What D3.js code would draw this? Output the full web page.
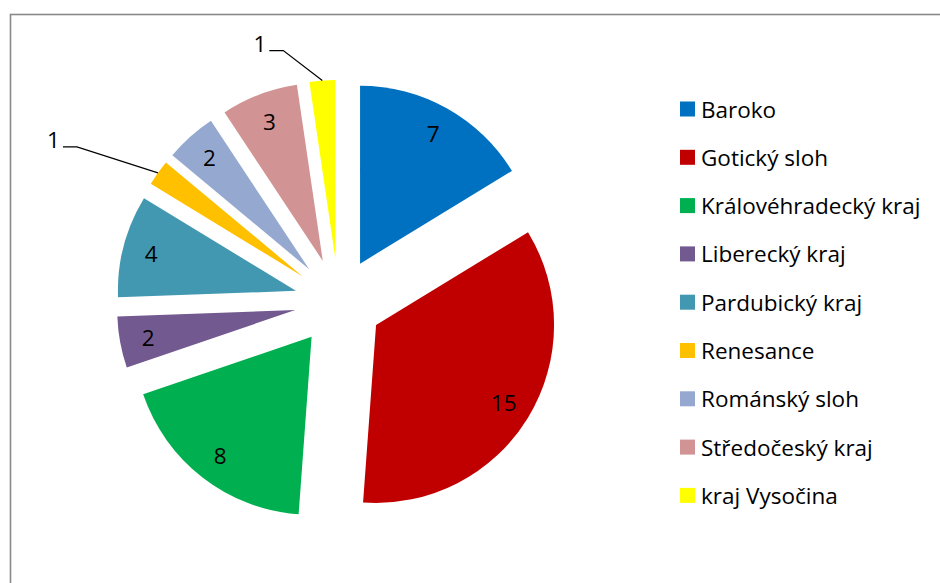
<!DOCTYPE html>
<html>
<head>
<meta charset="utf-8">
<script src="https://cdn.jsdelivr.net/npm/d3@7"></script>
<style>
  body { margin: 0; background: #fff; }
  svg { display: block; font-family: 'Open Sans', 'Noto Sans', sans-serif; }
</style>
</head>
<body>
<svg id="chart"></svg>
<script>
const categories = ['Baroko', 'Gotický sloh', 'Královéhradecký kraj', 'Liberecký kraj',
  'Pardubický kraj', 'Renesance', 'Románský sloh', 'Středočeský kraj', 'kraj Vysočina'];
const values = [7, 15, 8, 2, 4, 1, 2, 3, 1];
const colors = ['#0070C0', '#C00000', '#00B050', '#72598F', '#4298B0',
  '#FFC000', '#95A9D0', '#D19393', '#FFFF00'];

const width = 940, height = 583;
const cx = 338.5, cy = 302;
const radius = 178;
const explode = 44;
const fontSize = '22.5px';

// slices too thin for an inside label get a leader line (elbow offset from the arc)
const leaderOffsets = { 'Renesance': [-81, -26], 'kraj Vysočina': [-39, -30] };

const svg = d3.select('#chart')
  .attr('width', width)
  .attr('height', height);

// chart area border (cut off at right/bottom)
svg.append('rect')
  .attr('x', 10.5)
  .attr('y', 14.5)
  .attr('width', width + 20)
  .attr('height', height + 20)
  .attr('fill', 'none')
  .attr('stroke', '#898989')
  .attr('stroke-width', 1.6);

const data = categories.map((c, i) => ({ name: c, value: values[i], color: colors[i] }));

const pie = d3.pie()
  .sort(null)
  .value(d => d.value);

const arc = d3.arc()
  .innerRadius(0)
  .outerRadius(radius);

const arcs = pie(data);

const g = svg.append('g')
  .attr('transform', `translate(${cx},${cy})`);

arcs.forEach(a => {
  const mid = (a.startAngle + a.endAngle) / 2;
  const ux = Math.sin(mid), uy = -Math.cos(mid);
  const ox = ux * explode, oy = uy * explode;

  const sg = g.append('g')
    .attr('transform', `translate(${ox},${oy})`);

  sg.append('path')
    .attr('d', arc(a))
    .attr('fill', a.data.color);

  const lead = leaderOffsets[a.data.name];
  if (!lead) {
    sg.append('text')
      .attr('x', ux * radius * 0.84)
      .attr('y', uy * radius * 0.84)
      .attr('text-anchor', 'middle')
      .attr('dominant-baseline', 'central')
      .style('font-size', fontSize)
      .style('fill', '#000')
      .text(a.data.value);
  } else {
    const px = ux * radius, py = uy * radius;
    const ex = px + lead[0], ey = py + lead[1];
    sg.append('path')
      .attr('d', `M${px},${py}L${ex},${ey}L${ex - 14},${ey}`)
      .attr('fill', 'none')
      .attr('stroke', '#000')
      .attr('stroke-width', 1.2);
    sg.append('text')
      .attr('x', ex - 17)
      .attr('y', ey - 7)
      .attr('text-anchor', 'end')
      .attr('dominant-baseline', 'central')
      .style('font-size', fontSize)
      .style('fill', '#000')
      .text(a.data.value);
  }
});

// legend
const legend = svg.append('g')
  .attr('transform', 'translate(680,109)');

const row = legend.selectAll('g')
  .data(data)
  .join('g')
  .attr('transform', (d, i) => `translate(0,${i * 48.3})`);

row.append('rect')
  .attr('x', 0)
  .attr('y', -7.5)
  .attr('width', 15)
  .attr('height', 15)
  .attr('fill', d => d.color);

row.append('text')
  .attr('x', 21)
  .attr('y', 0)
  .attr('dominant-baseline', 'central')
  .style('font-size', fontSize)
  .style('fill', '#000')
  .text(d => d.name);
</script>
</body>
</html>
